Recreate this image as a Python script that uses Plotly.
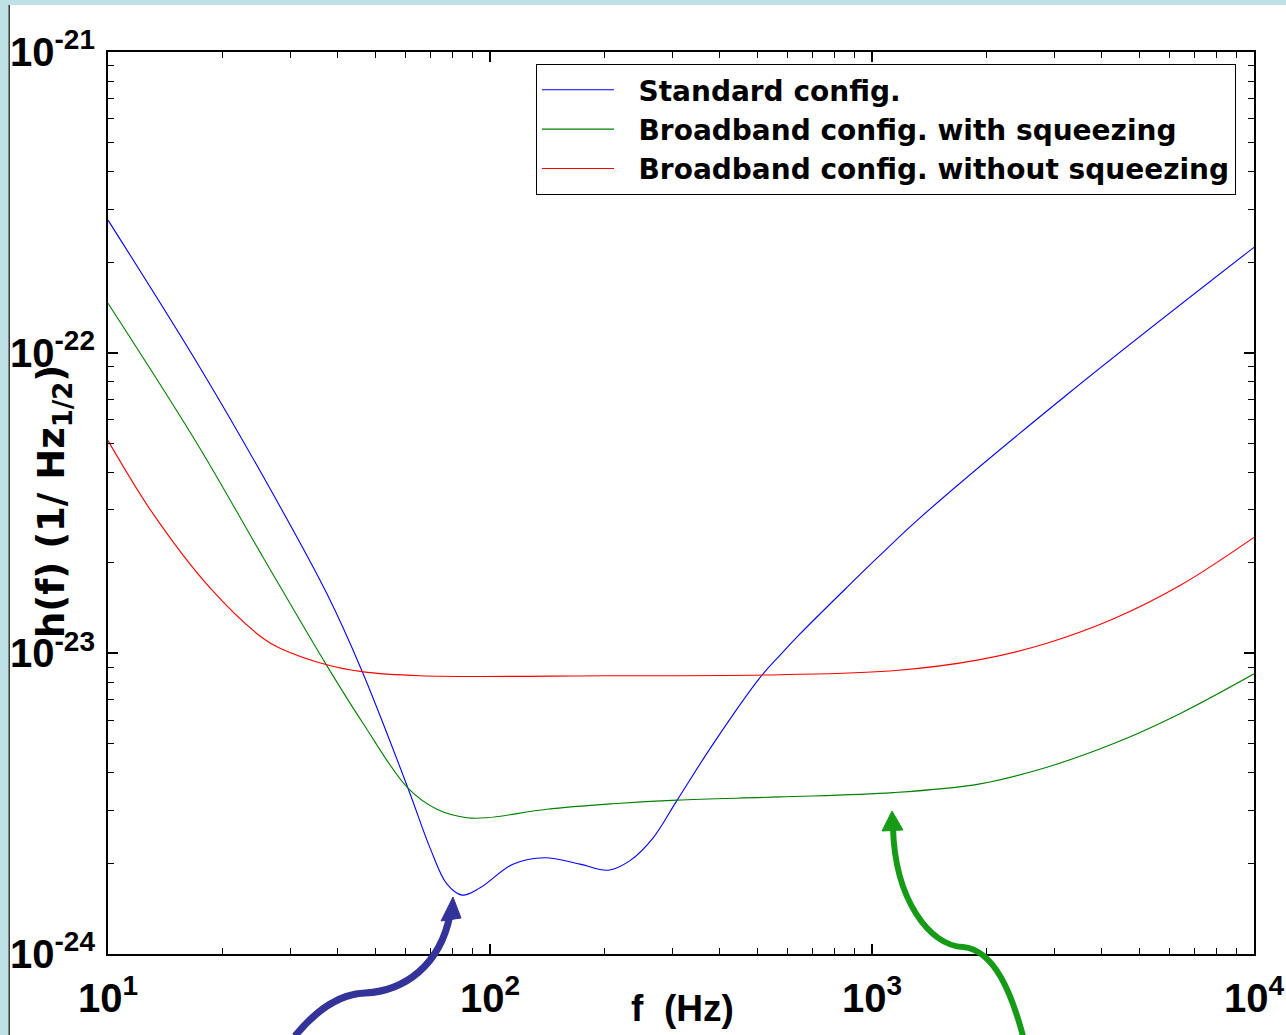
import plotly.graph_objects as go

# ---------------- data ----------------
f_standard = [10, 17.4, 26.1, 37.4, 46.2, 61.0, 69.7, 77.1, 84.5, 94.2, 114.8, 139, 172,
              204, 232, 267, 309, 384, 509, 574, 648, 861, 1050, 1313, 3243, 10000]
h_standard = [2.76e-22, 8.93e-23, 3.67e-23, 1.58e-23, 8.75e-24, 3.56e-24, 2.25e-24, 1.71e-24,
              1.57e-24, 1.66e-24, 1.99e-24, 2.09e-24, 1.99e-24, 1.90e-24, 2.04e-24, 2.43e-24,
              3.25e-24, 5.00e-24, 8.30e-24, 9.85e-24, 1.16e-23, 1.66e-23, 2.12e-23, 2.77e-23,
              7.26e-23, 2.24e-22]

f_squeezed = [10, 17.1, 25.5, 37.4, 46.6, 61.0, 72.6, 87.1, 98.3, 141, 210, 309, 574,
              1135, 1918, 2870, 4276, 6397, 10000]
h_squeezed = [1.46e-22, 4.99e-23, 2.08e-23, 9.10e-24, 5.83e-24, 3.56e-24, 3.03e-24, 2.84e-24,
              2.84e-24, 3.03e-24, 3.16e-24, 3.25e-24, 3.33e-24, 3.44e-24, 3.68e-24, 4.18e-24,
              5.00e-24, 6.30e-24, 8.55e-24]

f_no_squeeze = [10, 13.1, 18.5, 25.5, 28.2, 37.4, 46.2, 65.6, 200, 574, 1135, 1918, 2870,
                4276, 6397, 10000]
h_no_squeeze = [5.10e-23, 2.92e-23, 1.65e-23, 1.12e-23, 1.04e-23, 9.16e-24, 8.69e-24,
                8.42e-24, 8.42e-24, 8.49e-24, 8.75e-24, 9.53e-24, 1.08e-23, 1.30e-23,
                1.68e-23, 2.43e-23]

series_names = ["Standard config.",
                "Broadband config. with squeezing",
                "Broadband config. without squeezing"]
series_colors = ["#0000ff", "#008000", "#ff0000"]

x_tickvals = [10, 100, 1000, 10000]
x_ticktext = ["10<sup>1</sup>", "10<sup>2</sup>", "10<sup>3</sup>", "10<sup>4</sup>"]
y_tickvals = [1e-24, 1e-23, 1e-22, 1e-21]
y_ticktext = ["10<sup>-24</sup>", "10<sup>-23</sup>", "10<sup>-22</sup>", "10<sup>-21</sup>"]

x_title = "f\u00a0 (Hz)"
# in the reference the rotated exponent sits on the plot side of the text
y_title = "h(f) (1/ Hz<sub>1/2</sub>)"

# ---------------- layout geometry ----------------
W, H = 1286, 1035
ML, MR, MT, MB = 108, 32, 52, 81
PW, PH = W - ML - MR, H - MT - MB


def px(x):
    return (x - ML) / PW


def py(y):
    return (H - MB - y) / PH


minor_x = [k * 10 ** e for e in range(1, 4) for k in range(2, 10)]
minor_y = [k * 10.0 ** e for e in range(-24, -21) for k in range(2, 10)]

fig = go.Figure()
for fx, hy, name, col in zip([f_standard, f_squeezed, f_no_squeeze],
                             [h_standard, h_squeezed, h_no_squeeze],
                             series_names, series_colors):
    fig.add_trace(go.Scatter(x=fx, y=hy, mode="lines",
                             name="\u00a0\u00a0" + name,
                             line=dict(color=col, width=1.1, shape="spline", smoothing=1.0)))

arial = "Liberation Sans, Arial, sans-serif"
dejavu = "DejaVu Sans, sans-serif"
tick_font = dict(family=arial, size=40, color="black", weight="bold")

common_axis = dict(type="log", ticks="inside", ticklen=10, tickwidth=1.5, tickcolor="black",
                   showline=True, linecolor="black", linewidth=2, mirror="allticks",
                   showgrid=False, zeroline=False, tickfont=tick_font, automargin=False)

fig.update_layout(
    width=W, height=H,
    margin=dict(l=ML, r=MR, t=MT, b=MB, pad=0),
    paper_bgcolor="white", plot_bgcolor="white",
    xaxis=dict(range=[1, 4], tickmode="array", tickvals=x_tickvals, ticktext=x_ticktext,
               ticklabelstandoff=8,
               minor=dict(tickmode="array", tickvals=minor_x, ticks="inside", ticklen=6,
                          tickwidth=1.2, tickcolor="black", showgrid=False),
               **common_axis),
    yaxis=dict(range=[-24, -21], tickmode="array", tickvals=y_tickvals, ticktext=y_ticktext,
               ticklabelstandoff=3,
               minor=dict(tickmode="array", tickvals=minor_y, ticks="inside", ticklen=6,
                          tickwidth=1.2, tickcolor="black", showgrid=False),
               **common_axis),
    legend=dict(x=px(536), y=py(64), xanchor="left", yanchor="top",
                bgcolor="white", bordercolor="black", borderwidth=1,
                font=dict(family=dejavu, size=28, color="black", weight="bold"),
                itemwidth=72, tracegroupgap=0),
    showlegend=True,
)

# axis titles
fig.add_annotation(text=x_title, xref="paper", yref="paper", x=px(682), y=py(1008),
                   xanchor="center", yanchor="middle", showarrow=False,
                   font=dict(family=arial, size=37, color="black", weight="bold"))
fig.add_annotation(text=y_title, xref="paper", yref="paper", x=px(28), y=py(502),
                   xanchor="left", yanchor="middle", showarrow=False, textangle=-90,
                   font=dict(family=dejavu, size=37, color="black", weight="bold"))

# slide frame decoration (light blue band on the left and top)
band = "#bde1e5"
fig.add_shape(type="rect", xref="paper", yref="paper", x0=px(0), x1=px(8.5), y0=py(H), y1=py(0),
              fillcolor=band, line=dict(width=0), layer="below")
fig.add_shape(type="rect", xref="paper", yref="paper", x0=px(0), x1=px(W), y0=py(5), y1=py(0),
              fillcolor=band, line=dict(width=0), layer="below")
fig.add_shape(type="line", xref="paper", yref="paper", x0=px(9.2), x1=px(9.2), y0=py(H), y1=py(5),
              line=dict(color="#333333", width=1.5))


# curved arrows (pixel positions converted to paper fractions)
def path(cmds):
    out = []
    for cmd, pts in cmds:
        out.append(cmd + " " + " ".join(f"{px(a):.5f},{py(b):.5f}" for a, b in pts))
    return " ".join(out)


blue_arrow = "#333399"
green_arrow = "#169b16"
fig.add_shape(type="path", xref="paper", yref="paper",
              path=path([("M", [(295, 1036)]),
                         ("C", [(318, 1008), (340, 994), (365, 993)]),
                         ("C", [(405, 991), (440, 965), (450, 915)])]),
              line=dict(color=blue_arrow, width=7))
fig.add_shape(type="path", xref="paper", yref="paper",
              path=path([("M", [(453, 897)]), ("L", [(441, 921)]), ("L", [(461, 918)]), ("Z", [])]),
              fillcolor=blue_arrow, line=dict(color=blue_arrow, width=1))
fig.add_shape(type="path", xref="paper", yref="paper",
              path=path([("M", [(1023, 1036)]),
                         ("C", [(1012, 995), (995, 950), (963, 947)]),
                         ("C", [(930, 946), (895, 900), (893, 828)])]),
              line=dict(color=green_arrow, width=6))
fig.add_shape(type="path", xref="paper", yref="paper",
              path=path([("M", [(892, 811)]), ("L", [(882, 831)]), ("L", [(903, 830)]), ("Z", [])]),
              fillcolor=green_arrow, line=dict(color=green_arrow, width=1))

fig.write_html("out.html", config={"displayModeBar": False},
               post_script="document.body.style.margin='0px';document.body.style.overflow='hidden';")
